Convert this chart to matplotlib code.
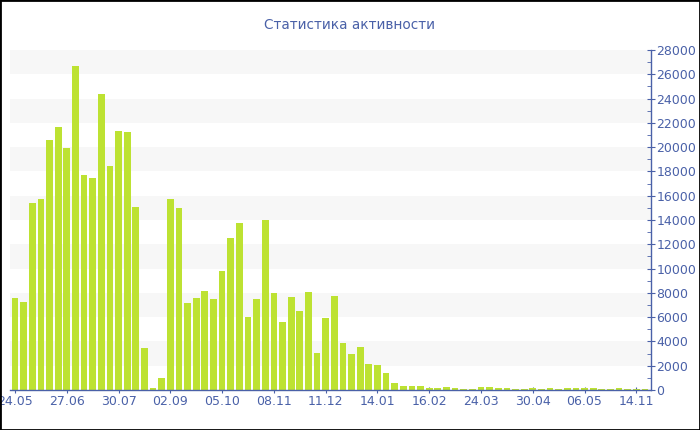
import matplotlib
matplotlib.use("Agg")
import matplotlib.pyplot as plt
from matplotlib.patches import Rectangle
from matplotlib.ticker import MultipleLocator

title = "Статистика активности"
values = [7550, 7270, 15430, 15760, 20560, 21690, 19900, 26710, 17700, 17460,
          24400, 18450, 21360, 21250, 15070, 3460, 190, 1010, 15730, 14960,
          7160, 7580, 8150, 7470, 9800, 12520, 13780, 6040, 7490, 14000,
          8020, 5630, 7690, 6530, 8070, 3070, 5900, 7740, 3900, 2990,
          3510, 2170, 2090, 1420, 550, 370, 330, 330, 190, 160,
          250, 160, 110, 110, 220, 250, 140, 140, 110, 110,
          140, 110, 140, 110, 140, 140, 140, 160, 110, 110,
          140, 110, 110, 110]
tick_labels = ["24.05", "27.06", "30.07", "02.09", "05.10", "08.11", "11.12",
               "14.01", "16.02", "24.03", "30.04", "06.05", "14.11"]
tick_step = 6

blue = "#4a61a8"
bar_color = "#bde232"

fig = plt.figure(figsize=(7, 4.3), dpi=100)
ax = fig.add_axes([10/700, 40/430, 641/700, 340/430])

x = list(range(len(values)))
for k in range(7):
    ax.axhspan(2000 + 4000*k, 4000 + 4000*k, color="#f7f7f7", zorder=0, lw=0)
ax.bar(x, values, width=0.78, color=bar_color, zorder=2)

ax.set_xlim(-0.58, len(values) - 0.3)
ax.set_ylim(0, 28000)
ax.yaxis.tick_right()
ax.yaxis.set_major_locator(MultipleLocator(2000))
ax.yaxis.set_minor_locator(MultipleLocator(1000))
ax.set_xticks([i*tick_step for i in range(len(tick_labels))])
ax.set_xticklabels(tick_labels)

for s in ["top", "left"]:
    ax.spines[s].set_visible(False)
for s in ["right", "bottom"]:
    ax.spines[s].set_color(blue)
    ax.spines[s].set_linewidth(1)

ax.tick_params(axis="y", which="major", direction="inout", length=6, color=blue,
               labelcolor=blue, labelsize=9, pad=1)
ax.tick_params(axis="y", which="minor", direction="in", length=3, color=blue)
ax.tick_params(axis="x", direction="inout", length=5, color=blue,
               labelcolor=blue, labelsize=9, pad=1)
ax.set_facecolor("white")

fig.text(349/700, 1 - 25/430, title, ha="center", va="center", color=blue, fontsize=9.8)
fig.patches.append(Rectangle((0, 0), 1, 1, transform=fig.transFigure, fill=False,
                             edgecolor="black", lw=2, zorder=10))

fig.savefig("out.png", dpi=100)
